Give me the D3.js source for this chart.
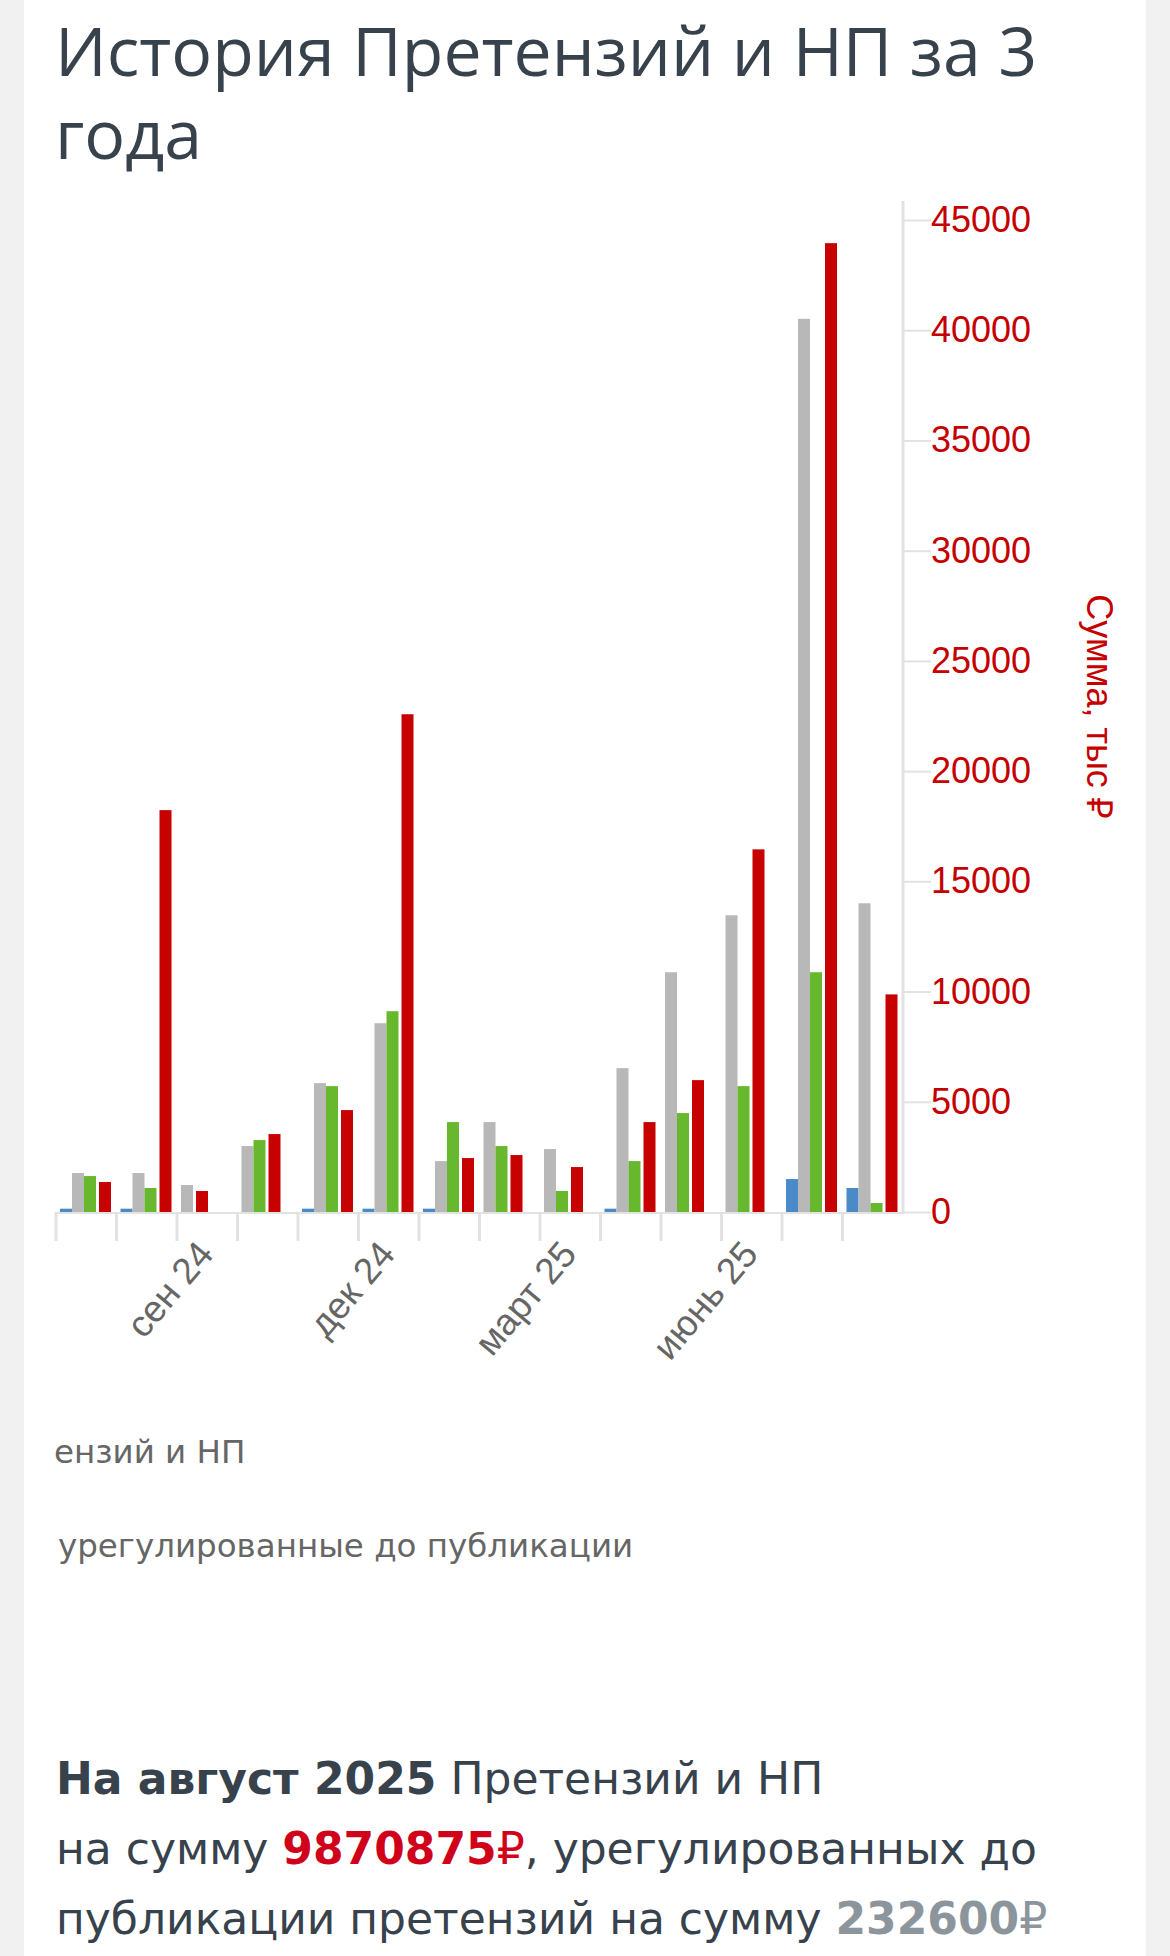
<!DOCTYPE html>
<html><head><meta charset="utf-8">
<script src="https://cdn.jsdelivr.net/npm/d3@7"></script>
<style>html,body{margin:0;padding:0;background:#f1f1f1;}svg{display:block;}</style>
</head><body>
<script>
// ---- data ----
const categories = ["июль 24","авг 24","сен 24","окт 24","нояб 24","дек 24","янв 25","фев 25","март 25","апр 25","май 25","июнь 25","июль 25","авг 25"];
const shownLabels = ["сен 24","дек 24","март 25","июнь 25"];
const seriesKeys = ["blue","gray","green","red"];
const blueValues  = [150,150,0,0,150,150,150,0,0,150,0,0,1495,1088];
const grayValues  = [1767,1767,1224,2991,5846,8565,2311,4079,2855,6526,10877,13460,40520,14004];
const greenValues = [1631,1088,0,3263,5710,9109,4079,2991,952,2311,4487,5710,10877,408];
const redValues   = [1360,18230,952,3535,4623,22580,2447,2583,2039,4079,5982,16451,43950,9871];
const yTicks = [0,5000,10000,15000,20000,25000,30000,35000,40000,45000];
const yAxisMax = 45860;
const titleLines = ["История Претензий и НП за 3","года"];
const legendTexts = ["ензий и НП","урегулированные до публикации"];

const colors = {blue:"#4a8ac9", gray:"#b8b8b8", green:"#67b82e", red:"#c70000"};
const seriesData = {blue:blueValues, gray:grayValues, green:greenValues, red:redValues};

const W = 1170, H = 1956;
const svg = d3.select("body").append("svg").attr("width", W).attr("height", H);
svg.append("rect").attr("width", W).attr("height", H).attr("fill", "#f1f1f1");
svg.append("rect").attr("x", 24).attr("y", 0).attr("width", 1122).attr("height", H).attr("fill", "#ffffff");

// title (two separate lines)
titleLines.forEach((t,i)=> svg.append("text")
  .attr("font-family","Open Sans").attr("font-size",68).attr("fill","#37424c")
  .attr("x",55).attr("y",76 + i*83).text(t));

// scales
const x0 = d3.scaleBand().domain(categories).range([56, 903]).paddingInner(0).paddingOuter(0);
const x1 = d3.scaleBand().domain(d3.range(seriesKeys.length)).range([4, 52]).paddingInner(0);
const y = d3.scaleLinear().domain([0, 45000]).range([1212, 220]);
const redGap = 3;

// bars (non-zero series packed in order within each month)
const g = svg.append("g");
categories.forEach((c, i) => {
  const present = seriesKeys.filter(k => seriesData[k][i] > 0);
  present.forEach((k, slot) => {
    const v = seriesData[k][i];
    g.append("rect")
      .attr("x", x0(c) + x1(slot) + (k === "red" ? redGap : 0))
      .attr("y", y(v))
      .attr("width", x1.bandwidth())
      .attr("height", y(0) - y(v))
      .attr("fill", colors[k]);
  });
});

// x axis line and boundary ticks
const axisColor = "#e2e2e2";
svg.append("line").attr("x1", x0.range()[0]).attr("x2", x0.range()[1])
  .attr("y1", y(0)+1).attr("y2", y(0)+1).attr("stroke", axisColor).attr("stroke-width", 2);
categories.forEach(c => {
  const b = x0(c);
  svg.append("line").attr("x1", b).attr("x2", b).attr("y1", y(0)).attr("y2", y(0)+29)
    .attr("stroke", axisColor).attr("stroke-width", 3);
});

// x labels via axis
const xAxis = d3.axisBottom(x0).tickValues(shownLabels).tickSize(0);
const xg = svg.append("g").attr("transform", `translate(0,${y(0)})`).call(xAxis);
xg.select(".domain").remove();
xg.selectAll("text")
  .attr("font-family","Liberation Sans").attr("font-size",37).attr("fill","#666666")
  .attr("text-anchor","end").attr("x",0).attr("y",0).attr("dy",0)
  .attr("transform","translate(8,43) rotate(-50)");

// y axis on right
svg.append("line").attr("x1", 903).attr("x2", 903).attr("y1", y(0)+2).attr("y2", y(yAxisMax))
  .attr("stroke", axisColor).attr("stroke-width", 3);
const yAxis = d3.axisRight(y).tickValues(yTicks).tickSize(28).tickPadding(0).tickFormat(d3.format("d"));
const yg = svg.append("g").attr("transform", "translate(903,0)").call(yAxis);
yg.select(".domain").remove();
yg.selectAll(".tick line").attr("stroke", axisColor).attr("stroke-width", 2);
yg.selectAll("text").attr("font-family","Liberation Sans").attr("font-size",36).attr("fill","#c40000");

// y axis title
svg.append("text").attr("transform", `translate(1099,${(y(0)+y(yAxisMax))/2}) rotate(90)`)
  .attr("text-anchor","middle").attr("dominant-baseline","central")
  .attr("font-family","Liberation Sans").attr("font-size",36).attr("fill","#c40000")
  .text("Сумма, тыс ₽");

// legend fragments
svg.append("text").attr("x",54).attr("y",1463).attr("font-family","DejaVu Sans").attr("font-size",32.5).attr("fill","#666666").text(legendTexts[0]);
svg.append("text").attr("x",58).attr("y",1557).attr("font-family","DejaVu Sans").attr("font-size",32.5).attr("fill","#666666").text(legendTexts[1]);

// summary text
const s = svg.append("text").attr("font-family","DejaVu Sans").attr("font-size",44).attr("fill","#37424c");
s.append("tspan").attr("x",56).attr("y",1794).attr("font-weight","bold").text("На август 2025");
s.append("tspan").text(" Претензий и НП");
s.append("tspan").attr("x",56).attr("y",1864).text("на сумму ");
s.append("tspan").attr("font-weight","bold").attr("fill","#d0021b").text("9870875");
s.append("tspan").attr("fill","#d0021b").text("₽");
s.append("tspan").text(", урегулированных до");
s.append("tspan").attr("x",56).attr("y",1934).text("публикации претензий на сумму ");
s.append("tspan").attr("font-weight","bold").attr("fill","#8c959c").text("232600");
s.append("tspan").attr("fill","#8c959c").text("₽");
</script>
</body></html>
